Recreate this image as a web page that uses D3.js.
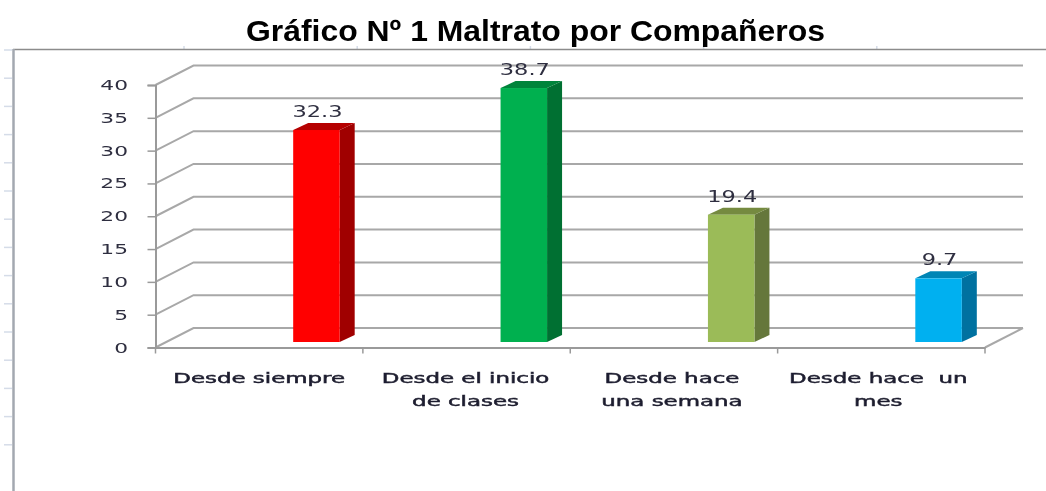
<!DOCTYPE html>
<html lang="es">
<head>
<meta charset="utf-8">
<title>Maltrato por Compañeros</title>
<script src="https://cdn.jsdelivr.net/npm/d3@7"></script>
<style>
html, body { margin: 0; padding: 0; background: #fff; overflow: hidden; }
svg { display: block; }
text { font-family: "DejaVu Sans", sans-serif; }
</style>
</head>
<body>
<script>
var categories = ["Desde siempre", "Desde el inicio\nde clases", "Desde hace\nuna semana", "Desde hace  un\nmes"];
var values = [32.3, 38.7, 19.4, 9.7];
var frontColors = ["#ff0000", "#00b04f", "#9bbb59", "#00b0f0"];
var sideColors = ["#a00000", "#006f31", "#65773a", "#0071a0"];
var topColors = ["#b50000", "#00843b", "#748a41", "#0085b5"];
var yTicks = [0, 5, 10, 15, 20, 25, 30, 35, 40];

var width = 1046, height = 491;
var left = 155.5, right = 985, bottom = 347.5, top_ = 85;
var depthX = 38, depthY = 19.5;    // floor depth of the fake 3d box
var barW = 46.5, barDX = 15, barDY = 7, barLift = 5.5, barShift = 34;

var svg = d3.select("body").append("svg").attr("width", width).attr("height", height);

// the reference is a soft, upscaled screenshot
svg.append("defs").append("filter").attr("id", "soft")
  .append("feGaussianBlur").attr("stdDeviation", 0.55);

var page = svg.append("g").attr("filter", "url(#soft)");

var x = d3.scaleBand().domain(categories).range([left, right]);
var y = d3.scaleLinear().domain([0, 40]).range([bottom, top_]);

// worksheet frame behind the chart
var frame = page.append("g").attr("stroke", "#d5dce8").attr("stroke-width", 1.5);
frame.selectAll("line.r").data(d3.range(15)).enter().append("line")
  .attr("x1", 4).attr("x2", 12)
  .attr("y1", function(d) { return 50 + d * 28.2; })
  .attr("y2", function(d) { return 50 + d * 28.2; });
frame.selectAll("line.t").data(d3.range(5)).enter().append("line")
  .attr("y1", 46).attr("y2", 49)
  .attr("x1", function(d) { return 184 + d * 173.2; })
  .attr("x2", function(d) { return 184 + d * 173.2; });
page.append("line").attr("x1", 13).attr("x2", 1046).attr("y1", 49.5).attr("y2", 49.5)
  .attr("stroke", "#8c8c8c").attr("stroke-width", 1.5);
page.append("line").attr("x1", 13.5).attr("x2", 13.5).attr("y1", 49).attr("y2", height)
  .attr("stroke", "#a3a8b0").attr("stroke-width", 2.5);

page.append("text")
  .attr("x", 535.5).attr("y", 41)
  .attr("text-anchor", "middle")
  .attr("textLength", 579).attr("lengthAdjust", "spacingAndGlyphs")
  .style("font-family", '"Liberation Sans", Arial, sans-serif')
  .style("font-weight", "bold")
  .style("font-size", "30px")
  .text("Gráfico Nº 1 Maltrato por Compañeros");

var chart = page.append("g");

// back wall gridlines and their diagonals on the side wall
var grid = chart.append("g").attr("stroke", "#a8a8a8").attr("stroke-width", 2).attr("fill", "none");
grid.selectAll("path").data(yTicks).enter().append("path")
  .attr("d", function(d) {
    return "M" + left + "," + y(d) + "L" + (left + depthX) + "," + (y(d) - depthY) + "H" + (right + depthX);
  });
grid.append("line")
  .attr("x1", right).attr("y1", bottom)
  .attr("x2", right + depthX).attr("y2", bottom - depthY);

var yAxis = d3.axisLeft(y).tickValues(yTicks).tickSize(8).tickPadding(0);
var xAxis = d3.axisBottom(x).tickValues([]).tickSizeOuter(0);

var yG = chart.append("g").attr("transform", "translate(" + left + ",0)").call(yAxis);
yG.select(".domain").attr("stroke", "#9a9a9a").attr("stroke-width", 2);
yG.selectAll(".tick line").attr("stroke", "#9a9a9a").attr("stroke-width", 1.5);
yG.selectAll(".tick text").remove();

var xG = chart.append("g").attr("transform", "translate(0," + bottom + ")").call(xAxis);
xG.select(".domain").attr("stroke", "#9a9a9a").attr("stroke-width", 2);
xG.selectAll("line.sep").data(x.domain().map(function(d) { return x(d); }).concat([right])).enter().append("line")
  .attr("class", "sep")
  .attr("x1", function(d) { return d; }).attr("x2", function(d) { return d; })
  .attr("y1", 0).attr("y2", 6)
  .attr("stroke", "#9a9a9a").attr("stroke-width", 1.5);

// wide look of the labels: stretch glyphs horizontally
function stretch(sel, factor) {
  sel.each(function() {
    var t = d3.select(this);
    t.attr("textLength", this.getComputedTextLength() * factor).attr("lengthAdjust", "spacingAndGlyphs");
  });
}

var yLabels = chart.append("g").selectAll("text").data(yTicks).enter().append("text")
  .attr("x", 128).attr("y", function(d) { return y(d) + 5; })
  .attr("text-anchor", "end")
  .style("font-size", "14.5px").attr("fill", "#2f2f40")
  .text(String);
stretch(yLabels, 1.5);

// bars
var bars = chart.selectAll("g.bar").data(values).enter().append("g").attr("class", "bar");
function barLeft(i) { return x(categories[i]) + x.bandwidth() / 2 + barShift; }
function barBase() { return bottom - barLift; }
function barTop(d) { return y(d) - barLift; }

bars.append("path").attr("fill", function(d, i) { return sideColors[i]; })
  .attr("d", function(d, i) {
    var r = barLeft(i) + barW;
    return "M" + r + "," + barTop(d) + "l" + barDX + "," + (-barDY) + "V" + (barBase() - barDY) + "L" + r + "," + barBase() + "Z";
  });
bars.append("path").attr("fill", function(d, i) { return topColors[i]; })
  .attr("d", function(d, i) {
    var l = barLeft(i);
    return "M" + l + "," + barTop(d) + "l" + barDX + "," + (-barDY) + "h" + barW + "l" + (-barDX) + "," + barDY + "Z";
  });
bars.append("rect").attr("fill", function(d, i) { return frontColors[i]; })
  .attr("x", function(d, i) { return barLeft(i); })
  .attr("y", function(d) { return barTop(d); })
  .attr("width", barW)
  .attr("height", function(d) { return barBase() - barTop(d); });

var valueLabels = bars.append("text")
  .attr("x", function(d, i) { return barLeft(i) + barW / 2 + 1; })
  .attr("y", function(d) { return barTop(d) - 13; })
  .attr("text-anchor", "middle")
  .style("font-size", "15.5px").attr("fill", "#2f2f40")
  .text(function(d) { return d.toFixed(1); });
stretch(valueLabels, 1.45);

// category labels, split on the line break
var cat = chart.selectAll("g.cat").data(categories).enter().append("g").attr("class", "cat");
cat.each(function(c, n) {
  var lines = c.split("\n");
  var t = d3.select(this).selectAll("text").data(lines).enter().append("text")
    .attr("x", x(c) + x.bandwidth() / 2 - n * 1)
    .attr("y", function(d, i) { return 383 + i * 23; })
    .attr("text-anchor", "middle")
    .style("white-space", "pre")
    .style("font-size", "14.5px").attr("fill", "#1f1f30")
    .attr("stroke", "#1f1f30").attr("stroke-width", 0.5)
    .text(String);
  stretch(t, 1.58);
});
</script>
</body>
</html>
